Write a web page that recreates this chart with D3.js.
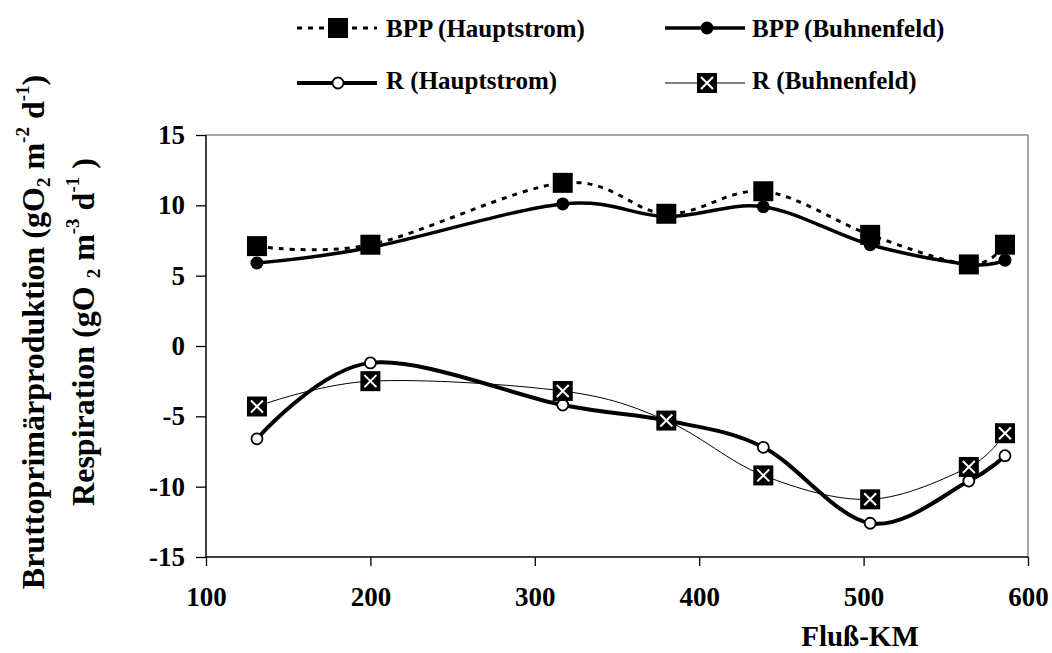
<!DOCTYPE html>
<html>
<head>
<meta charset="utf-8">
<script src="https://cdn.jsdelivr.net/npm/d3@7/dist/d3.min.js"></script>
<style>
  html, body { margin: 0; padding: 0; background: #fff; }
  svg { display: block; }
  svg text { font-family: "Liberation Serif", Tinos, "Times New Roman", Times, "DejaVu Serif", "Noto Serif", serif !important; font-weight: bold; fill: #000; }
</style>
</head>
<body>
<svg id="chart" width="1052" height="653"></svg>
<script>
// ---- Data ----
const km = [131, 200, 317, 380, 439, 504, 564, 586];
const bppHauptstrom = [7.1, 7.2, 11.6, 9.4, 11.0, 7.9, 5.8, 7.2];
const bppBuhnenfeld = [5.9, 7.0, 10.1, 9.2, 9.9, 7.2, 5.8, 6.1];
const rHauptstrom = [-6.6, -1.2, -4.2, -5.3, -7.2, -12.6, -9.6, -7.8];
const rBuhnenfeld = [-4.3, -2.5, -3.2, -5.3, -9.2, -10.9, -8.6, -6.2];
const xTicks = [100, 200, 300, 400, 500, 600];
const yTicks = [-15, -10, -5, 0, 5, 10, 15];
const seriesNames = ["BPP (Hauptstrom)", "BPP (Buhnenfeld)", "R (Hauptstrom)", "R (Buhnenfeld)"];

// ---- Layout ----
const svg = d3.select("#chart");
const x = d3.scaleLinear().domain([100, 600]).range([206, 1028]);
const y = d3.scaleLinear().domain([-15, 15]).range([557, 135]);

const series = [
  { name: seriesNames[0], values: bppHauptstrom, stroke: 3, dash: "5,6", marker: "square" },
  { name: seriesNames[1], values: bppBuhnenfeld, stroke: 3.5, dash: null, marker: "dot" },
  { name: seriesNames[2], values: rHauptstrom, stroke: 4, dash: null, marker: "open" },
  { name: seriesNames[3], values: rBuhnenfeld, stroke: 1, dash: null, marker: "xsquare" }
];

// ---- Axes ----
const gy = svg.append("g").attr("transform", `translate(${x(100)},0)`)
  .call(d3.axisLeft(y).tickValues(yTicks).tickSize(10).tickPadding(11).tickFormat(d => String(d)));
const gx = svg.append("g").attr("transform", `translate(0,${y(-15)})`)
  .call(d3.axisBottom(x).tickValues(xTicks).tickSize(9).tickPadding(21).tickFormat(d => String(d)));
[gy, gx].forEach(g => {
  g.attr("font-family", null).attr("font-size", null);
  g.select(".domain").remove();
  g.selectAll(".tick line").attr("stroke", "#000").attr("stroke-width", 1.3);
  g.selectAll(".tick text").style("font-size", "27px").attr("fill", "#000");
});

// plot frame
svg.append("line").attr("x1", x(100)).attr("x2", x(600)).attr("y1", y(15)).attr("y2", y(15)).attr("stroke", "#888").attr("stroke-width", 1.5);
svg.append("line").attr("x1", x(600)).attr("x2", x(600)).attr("y1", y(15)).attr("y2", y(-15)).attr("stroke", "#888").attr("stroke-width", 1.5);
svg.append("line").attr("x1", x(100)).attr("x2", x(100)).attr("y1", y(15)).attr("y2", y(-15)).attr("stroke", "#000").attr("stroke-width", 1.5);
svg.append("line").attr("x1", x(100)).attr("x2", x(600)).attr("y1", y(-15)).attr("y2", y(-15)).attr("stroke", "#000").attr("stroke-width", 1.5);

// ---- Lines ----
const lineGen = d3.line().x(d => x(d[0])).y(d => y(d[1])).curve(d3.curveCardinal.tension(0));
series.forEach(s => {
  const pts = km.map((k, i) => [k, s.values[i]]);
  svg.append("path").attr("d", lineGen(pts)).attr("fill", "none").attr("stroke", "#000")
    .attr("stroke-width", s.stroke).attr("stroke-dasharray", s.dash).attr("stroke-linejoin", "round");
});

// ---- Markers ----
function drawMarker(g, type, cx, cy) {
  if (type === "square") {
    g.append("rect").attr("x", cx - 10).attr("y", cy - 10).attr("width", 20).attr("height", 20).attr("fill", "#000");
  } else if (type === "dot") {
    g.append("circle").attr("cx", cx).attr("cy", cy).attr("r", 6.5).attr("fill", "#000");
  } else if (type === "open") {
    g.append("circle").attr("cx", cx).attr("cy", cy).attr("r", 5.5).attr("fill", "#fff").attr("stroke", "#000").attr("stroke-width", 1.8);
  } else if (type === "xsquare") {
    g.append("rect").attr("x", cx - 10).attr("y", cy - 10).attr("width", 20).attr("height", 20).attr("fill", "#000");
    g.append("path").attr("d", `M${cx - 6},${cy - 6}L${cx + 6},${cy + 6}M${cx + 6},${cy - 6}L${cx - 6},${cy + 6}`)
      .attr("stroke", "#fff").attr("stroke-width", 2);
  }
}
const markerOrder = [1, 2, 0, 3];
markerOrder.forEach(si => {
  const s = series[si];
  const g = svg.append("g");
  km.forEach((k, i) => drawMarker(g, s.marker, x(k), y(s.values[i])));
});

// ---- Legend ----
const legendPos = [
  { x1: 297, x2: 377, mx: 338, ly: 28, tx: 386, ty: 37 },
  { x1: 665, x2: 745, mx: 707, ly: 28, tx: 752, ty: 37 },
  { x1: 297, x2: 377, mx: 338, ly: 83, tx: 386, ty: 89 },
  { x1: 665, x2: 745, mx: 707, ly: 83, tx: 752, ty: 89 }
];
series.forEach((s, i) => {
  const p = legendPos[i];
  const g = svg.append("g");
  g.append("line").attr("x1", p.x1).attr("x2", p.x2).attr("y1", p.ly).attr("y2", p.ly)
    .attr("stroke", "#000").attr("stroke-width", s.stroke).attr("stroke-dasharray", s.dash);
  drawMarker(g, s.marker, p.mx, p.ly);
  g.append("text").attr("x", p.tx).attr("y", p.ty).style("font-size", "25px").text(s.name);
});

// ---- Axis titles ----
svg.append("text").attr("x", 860).attr("y", 646).attr("text-anchor", "middle").style("font-size", "29px").text("Fluß-KM");

function yTitle(xPos, size, parts) {
  const t = svg.append("text").attr("transform", `translate(${xPos},332) rotate(-90)`)
    .attr("text-anchor", "middle").style("font-size", size + "px");
  parts.forEach(p => {
    const ts = t.append("tspan").text(p.t);
    if (p.s === "sub") ts.attr("dy", 6).style("font-size", "19px");
    else if (p.s === "sup") ts.attr("dy", -15).style("font-size", "19px");
    if (p.back) ts.attr("dy", p.back);
  });
}
yTitle(44, 32, [
  { t: "Bruttoprimärproduktion (gO" },
  { t: "2", s: "sub" },
  { t: " m", back: -6 },
  { t: "-2", s: "sup" },
  { t: "  d", back: 15 },
  { t: "-1", s: "sup" },
  { t: ")", back: 15 }
]);
yTitle(94, 32, [
  { t: "Respiration (gO " },
  { t: "2", s: "sub" },
  { t: " m", back: -6 },
  { t: "-3", s: "sup" },
  { t: "  d", back: 15 },
  { t: "-1", s: "sup" },
  { t: " )", back: 15 }
]);
</script>
</body>
</html>
